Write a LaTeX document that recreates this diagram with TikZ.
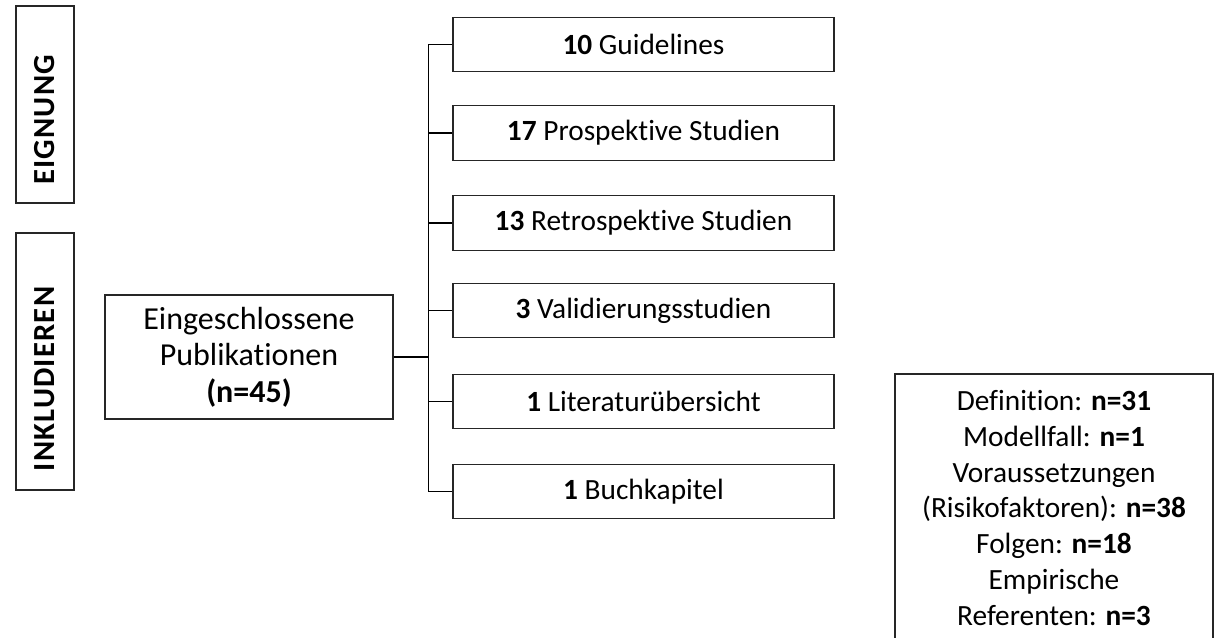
\documentclass[tikz,border=0pt]{standalone}
\usepackage{fontspec}
\setmainfont[Ligatures=NoCommon]{Carlito}
\newfontfamily\spacedfont[Ligatures=NoCommon,LetterSpace=4]{Carlito}
\begin{document}
\begin{tikzpicture}[x=0.75pt,y=-0.75pt,
  every node/.style={font=\fontsize{22}{26}\selectfont},
  boxst/.style={draw=black!85,line width=0.8pt,inner sep=0pt},
  catbox/.style={boxst,minimum width=285.75pt,minimum height=41pt,align=center},
  sidebox/.style={boxst,minimum width=43.5pt},
  sidetext/.style={rotate=90,inner sep=0pt,font=\fontsize{23}{26}\spacedfont\bfseries},
  conn/.style={draw=black,line width=0.8pt}]
\useasboundingbox (0,0) rectangle (1221,638);
% side labels
\node[sidebox,minimum height=147.75pt] (eig) at (45,104.5) {};
\node[sidetext] (eigt) at (45,120) {EIGNUNG};
\node[sidebox,minimum height=192.75pt] (ink) at (45,361.5) {};
\node[sidetext] (inkt) at (45,379) {INKLUDIEREN};
% main box
\node[boxst,minimum width=216pt,minimum height=93pt,align=center,
      font=\fontsize{24}{25.5}\selectfont] (pub) at (249,357)
  {Eingeschlossene\\[2pt]Publikationen\\[2pt]\textbf{(n=45)}};
% category boxes
\node[catbox] (b1) at (643.5,44.5) {\textbf{10} Guidelines};
\node[catbox] (b2) at (643.5,133) {\textbf{17} Prospektive Studien};
\node[catbox] (b3) at (643.5,223) {\textbf{13} Retrospektive Studien};
\node[catbox] (b4) at (643.5,310.5) {\textbf{3} Validierungsstudien};
\node[catbox] (b5) at (643.5,401.5) {\textbf{1} Literaturübersicht};
\node[catbox] (b6) at (643.5,491.5) {\textbf{1} Buchkapitel};
% connectors
\path (pub.east) ++(35,0) coordinate (tr);
\draw[conn] (pub.east) -- (tr);
\draw[conn] (b1.west -| tr) -- (b6.west -| tr);
\foreach \b in {b1,b2,b3,b4,b5,b6}
  \draw[conn] (\b.west) -- (\b.west -| tr);
% result box
\node[boxst,minimum width=238.5pt,minimum height=214.5pt] (resbox) at (1054,517) {};
\node[align=center,font=\fontsize{22}{26.85}\selectfont,anchor=north,inner sep=0pt] (restext) at (1054,390)
  {Definition: \textbf{n=31}\\Modellfall: \textbf{n=1}\\Voraussetzungen\\(Risikofaktoren): \textbf{n=38}\\Folgen: \textbf{n=18}\\Empirische\\Referenten: \textbf{n=3}};
\end{tikzpicture}
\end{document}
